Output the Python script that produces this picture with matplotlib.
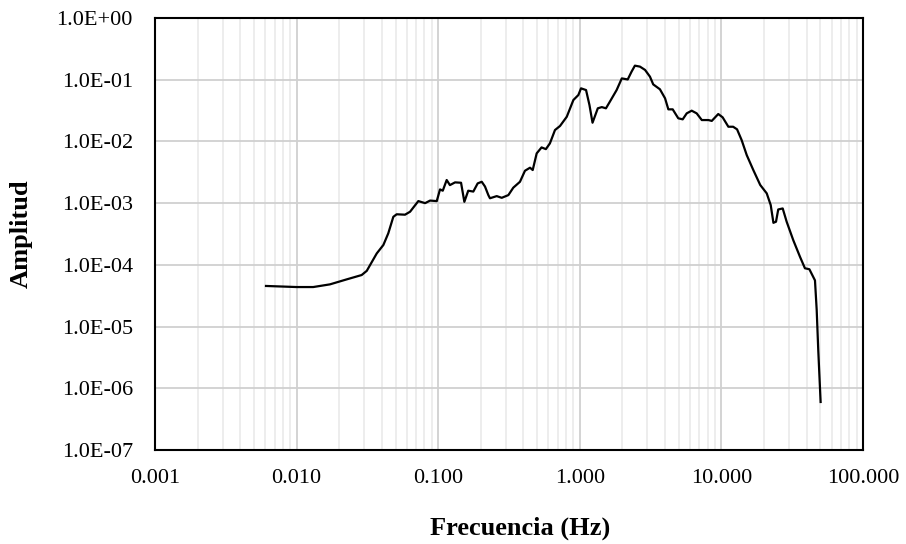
import matplotlib
matplotlib.use("Agg")
import matplotlib.pyplot as plt
from matplotlib.ticker import LogLocator, FuncFormatter, NullFormatter

# Espectro de amplitudes
frecuencia = [0.00608, 0.0080, 0.0100, 0.0131, 0.0172, 0.0226, 0.0288, 0.0313, 0.0368, 0.041,
              0.0444, 0.0482, 0.0509, 0.0583, 0.0633, 0.0724, 0.0808, 0.0876, 0.0977, 0.103,
              0.1077, 0.1148, 0.121, 0.1315, 0.145, 0.153, 0.163, 0.177, 0.19, 0.203,
              0.214, 0.226, 0.232, 0.259, 0.281, 0.313, 0.339, 0.378, 0.41, 0.445,
              0.465, 0.496, 0.537, 0.576, 0.615, 0.668, 0.725, 0.809, 0.901, 0.977,
              1.02, 1.107, 1.17, 1.23, 1.34, 1.43, 1.53, 1.63, 1.82, 1.98,
              2.18, 2.32, 2.45, 2.66, 2.89, 3.13, 3.3, 3.68, 4.0, 4.22,
              4.53, 4.96, 5.33, 5.69, 6.17, 6.69, 7.27, 8.1, 8.55, 9.5,
              10.2, 11.2, 12.1, 12.9, 13.9, 15.1, 16.8, 18.8, 20.9, 22.3,
              23.3, 24.3, 25.2, 27.1, 28.9, 32.2, 35.9, 38.9, 41.8, 45.8,
              47.1, 48.3, 50.2]
amplitud = [4.55e-5, 4.45e-5, 4.37e-5, 4.37e-5, 4.83e-5, 5.82e-5, 6.84e-5, 8.0e-5, 1.53e-4, 2.1e-4,
            3.24e-4, 6.0e-4, 6.6e-4, 6.5e-4, 7.26e-4, 1.08e-3, 1.0e-3, 1.1e-3, 1.08e-3, 1.67e-3,
            1.59e-3, 2.37e-3, 1.96e-3, 2.17e-3, 2.14e-3, 1.05e-3, 1.59e-3, 1.54e-3, 2.09e-3, 2.22e-3,
            1.86e-3, 1.35e-3, 1.2e-3, 1.3e-3, 1.22e-3, 1.35e-3, 1.78e-3, 2.22e-3, 3.35e-3, 3.75e-3,
            3.44e-3, 6.4e-3, 8.0e-3, 7.5e-3, 9.3e-3, 1.53e-2, 1.78e-2, 2.51e-2, 4.69e-2, 5.65e-2,
            7.25e-2, 6.8e-2, 3.89e-2, 2.01e-2, 3.44e-2, 3.6e-2, 3.44e-2, 4.4e-2, 6.8e-2, 0.105,
            0.101, 0.135, 0.169, 0.163, 0.144, 0.112, 8.4e-2, 7.0e-2, 5.0e-2, 3.31e-2,
            3.31e-2, 2.37e-2, 2.28e-2, 2.85e-2, 3.15e-2, 2.85e-2, 2.22e-2, 2.22e-2, 2.15e-2, 2.78e-2,
            2.46e-2, 1.73e-2, 1.73e-2, 1.57e-2, 1.05e-2, 6.0e-3, 3.44e-3, 1.97e-3, 1.44e-3, 9.3e-4,
            4.8e-4, 5.0e-4, 7.9e-4, 8.2e-4, 5.0e-4, 2.5e-4, 1.35e-4, 8.8e-5, 8.5e-5, 5.6e-5,
            1.85e-5, 4.2e-6, 6.0e-7]

plt.rcParams["font.family"] = ["Liberation Serif", "DejaVu Serif"]

fig = plt.figure(figsize=(9.06, 5.44), dpi=100)
ax = fig.add_axes([155 / 906, 1 - 450 / 544, 708 / 906, 432 / 544])

ax.plot(frecuencia, amplitud, color="black", linewidth=1.6)

ax.set_xscale("log")
ax.set_yscale("log")
ax.set_xlim(0.001, 100)
ax.set_ylim(1e-7, 1)

ax.xaxis.set_major_locator(LogLocator(base=10, numticks=10))
ax.xaxis.set_minor_locator(LogLocator(base=10, subs=range(2, 10), numticks=20))
ax.yaxis.set_major_locator(LogLocator(base=10, numticks=10))
ax.yaxis.set_minor_locator(LogLocator(base=10, subs=[], numticks=20))
ax.xaxis.set_major_formatter(FuncFormatter(lambda v, p: "{0:.3f}".format(v)))
ax.xaxis.set_minor_formatter(NullFormatter())
ax.yaxis.set_major_formatter(FuncFormatter(lambda v, p: "{0:.1E}".format(v)))
ax.yaxis.set_minor_formatter(NullFormatter())

ax.grid(which="major", color="#d0d0d0", linewidth=1.3)
ax.grid(which="minor", axis="x", color="#ececec", linewidth=1.3)
ax.set_axisbelow(True)

ax.tick_params(which="both", length=0, labelsize=16, colors="black")
ax.tick_params(axis="x", pad=14)
ax.tick_params(axis="y", pad=16)
for s in ax.spines.values():
    s.set_color("black")
    s.set_linewidth(1.5)

fig.text(520 / 906, 1 - 528 / 544, "Frecuencia (Hz)", ha="center", va="center",
         fontsize=19, fontweight="bold")
fig.text(21 / 906, 1 - 234 / 544, "Amplitud", ha="center", va="center",
         rotation=90, fontsize=19, fontweight="bold")

fig.savefig("out.png", dpi=100)
